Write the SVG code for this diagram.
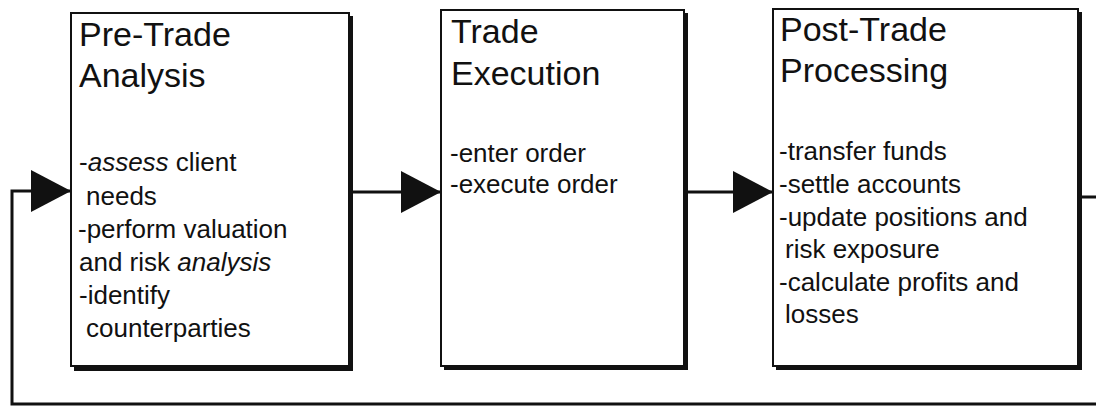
<svg xmlns="http://www.w3.org/2000/svg" width="1096" height="407" viewBox="0 0 1096 407">
  <style>
    .shadow { fill: #111; }
    .box { fill: #fff; stroke: #111; stroke-width: 2; }
    .title { font-family: "Liberation Sans", Arial, sans-serif; font-size: 34px; fill: #111; }
    .body { font-family: "Liberation Sans", Arial, sans-serif; font-size: 26px; fill: #111; }
    .it { font-style: italic; }
    .wire { fill: none; stroke: #111; stroke-width: 3; }
  </style>
  <defs>
    <marker id="arrow" viewBox="0 0 40 42" refX="40" refY="21" markerWidth="40" markerHeight="42" markerUnits="userSpaceOnUse" orient="auto">
      <path d="M0,0 L40,21 L0,42 Z" fill="#111"/>
    </marker>
  </defs>

  <rect width="1096" height="407" fill="#fff"/>

  <!-- connectors -->
  <g id="connectors">
    <line class="wire" x1="352" y1="192" x2="441" y2="192" marker-end="url(#arrow)"/>
    <line class="wire" x1="687" y1="192" x2="773" y2="192" marker-end="url(#arrow)"/>
    <path class="wire" d="M1080,197 H1100 V404 H12 V191 H71" marker-end="url(#arrow)"/>
  </g>

  <!-- Pre-Trade Analysis -->
  <g id="pre-trade">
    <rect class="shadow" x="74" y="16" width="279" height="355"/>
    <rect class="box" x="71" y="13" width="278" height="353"/>
    <text class="title" x="79" y="46">Pre-Trade</text>
    <text class="title" x="79" y="87">Analysis</text>
    <text class="body" x="79" y="171">-<tspan class="it">assess</tspan> client</text>
    <text class="body" x="86" y="205">needs</text>
    <text class="body" x="78" y="238">-perform valuation</text>
    <text class="body" x="79" y="271">and risk <tspan class="it">analysis</tspan></text>
    <text class="body" x="79" y="304">-identify</text>
    <text class="body" x="86" y="337">counterparties</text>
  </g>

  <!-- Trade Execution -->
  <g id="trade-execution">
    <rect class="shadow" x="444" y="13" width="244" height="357"/>
    <rect class="box" x="441" y="10" width="243" height="356"/>
    <text class="title" x="451" y="43">Trade</text>
    <text class="title" x="451" y="85">Execution</text>
    <text class="body" x="450" y="162">-enter order</text>
    <text class="body" x="450" y="193">-execute order</text>
  </g>

  <!-- Post-Trade Processing -->
  <g id="post-trade">
    <rect class="shadow" x="776" y="12" width="306" height="358"/>
    <rect class="box" x="773" y="9" width="305" height="357"/>
    <text class="title" x="780" y="41">Post-Trade</text>
    <text class="title" x="780" y="82">Processing</text>
    <text class="body" x="779" y="160">-transfer funds</text>
    <text class="body" x="779" y="193">-settle accounts</text>
    <text class="body" x="779" y="226">-update positions and</text>
    <text class="body" x="785" y="258">risk exposure</text>
    <text class="body" x="779" y="291">-calculate profits and</text>
    <text class="body" x="785" y="323">losses</text>
  </g>
</svg>
